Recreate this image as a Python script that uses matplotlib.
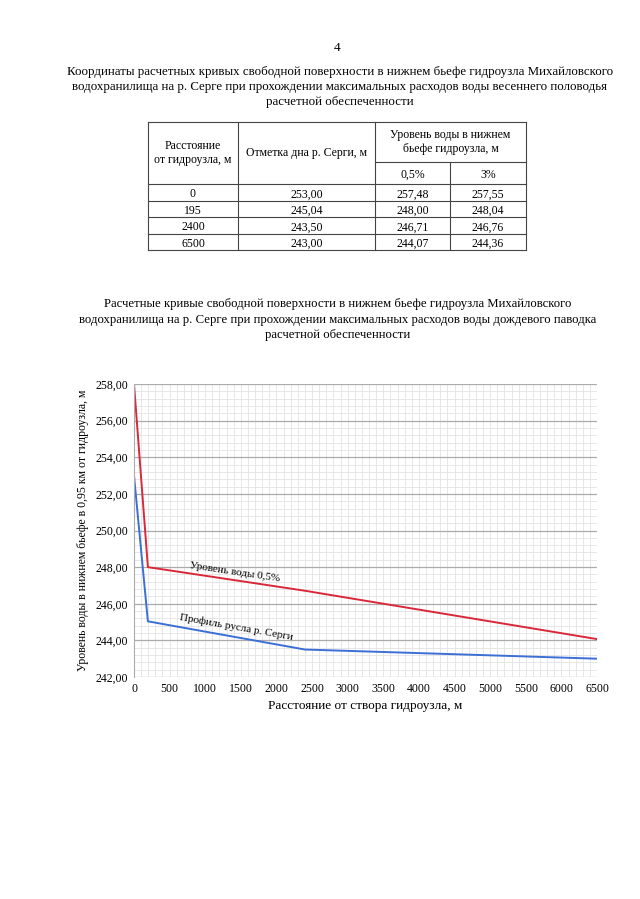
import numpy as np
import matplotlib.pyplot as plt
from matplotlib.ticker import MultipleLocator, FuncFormatter

plt.rcParams['font.family'] = ['Liberation Serif', 'DejaVu Serif']

# table data (весеннее половодье)
dist = [0, 195, 2400, 6500]
bottom = [253.00, 245.04, 243.50, 243.00]
lvl_05 = [257.48, 248.00, 246.71, 244.07]
lvl_3 = [257.55, 248.04, 246.76, 244.36]

# chart data (дождевой паводок)
x_chart = [0, 195, 2400, 6500]
y_water = [258.00, 248.00, 246.71, 244.07]
y_bed = [253.00, 245.04, 243.50, 243.00]

title1 = ["Координаты расчетных кривых свободной поверхности в нижнем бьефе гидроузла Михайловского",
          "водохранилища на р. Серге при прохождении максимальных расходов воды весеннего половодья",
          "расчетной обеспеченности"]
title2 = ["Расчетные кривые свободной поверхности в нижнем бьефе гидроузла Михайловского",
          "водохранилища на р. Серге при прохождении максимальных расходов воды дождевого паводка",
          "расчетной обеспеченности"]

def fmt(v):
    return f"{v:.2f}".replace('.', ',')

fig = plt.figure(figsize=(6.4, 8.99), dpi=100)

# page overlay in pixel units
pg = fig.add_axes([0, 0, 1, 1])
pg.set_xlim(0, 640)
pg.set_ylim(899, 0)
pg.axis('off')

pg.text(337, 51, "4", ha='center', va='baseline', fontsize=9.5)
for i, line in enumerate(title1):
    pg.text(340, 75 + 15 * i, line, ha='center', va='baseline', fontsize=9.3)

# table
cx = [148, 238, 375, 450, 526]
ry = [122, 162, 184, 200.5, 217, 233.5, 250]
lc = '#444444'
for yy in [ry[0], ry[2], ry[3], ry[4], ry[5], ry[6]]:
    pg.plot([cx[0], cx[-1]], [yy, yy], color=lc, lw=0.8)
pg.plot([cx[2], cx[4]], [ry[1], ry[1]], color=lc, lw=0.8)
for i, xx in enumerate(cx):
    top = ry[1] if i == 3 else ry[0]
    pg.plot([xx, xx], [top, ry[-1]], color=lc, lw=0.8)

tfs = 8.5
pg.text((cx[0] + cx[1]) / 2, 153, "Расстояние\nот гидроузла, м", ha='center', va='center', fontsize=tfs,
        linespacing=1.2)
pg.text((cx[1] + cx[2]) / 2, 153, "Отметка дна р. Серги, м", ha='center', va='center', fontsize=tfs)
pg.text((cx[2] + cx[4]) / 2, 142, "Уровень воды в нижнем\nбьефе гидроузла, м", ha='center', va='center',
        fontsize=tfs, linespacing=1.2)
pg.text((cx[2] + cx[3]) / 2, 173.5, "0,5%", ha='center', va='center_baseline', fontsize=tfs)
pg.text((cx[3] + cx[4]) / 2, 173.5, "3%", ha='center', va='center_baseline', fontsize=tfs)
for k in range(len(dist)):
    yc = (ry[k + 2] + ry[k + 3]) / 2 + 0.5
    pg.text((cx[0] + cx[1]) / 2, yc, str(dist[k]), ha='center', va='center_baseline', fontsize=tfs)
    pg.text((cx[1] + cx[2]) / 2, yc, fmt(bottom[k]), ha='center', va='center_baseline', fontsize=tfs)
    pg.text((cx[2] + cx[3]) / 2, yc, fmt(lvl_05[k]), ha='center', va='center_baseline', fontsize=tfs)
    pg.text((cx[3] + cx[4]) / 2, yc, fmt(lvl_3[k]), ha='center', va='center_baseline', fontsize=tfs)

for i, line in enumerate(title2):
    pg.text(338, 307 + 15.5 * i, line, ha='center', va='baseline', fontsize=9.2)

# chart
ax = fig.add_axes([134 / 640, 1 - 677 / 899, (597 - 134) / 640, (677 - 384) / 899])
ax.plot(x_chart, y_water, color='#d9283a', lw=1.4)
ax.plot(x_chart, y_bed, color='#3b6fd6', lw=1.4)
ax.set_xlim(0, 6500)
ax.set_ylim(242, 258)
ax.xaxis.set_major_locator(MultipleLocator(500))
ax.xaxis.set_minor_locator(MultipleLocator(100))
ax.yaxis.set_major_locator(MultipleLocator(2))
ax.yaxis.set_minor_locator(MultipleLocator(0.4))
ax.yaxis.set_major_formatter(FuncFormatter(lambda v, p: fmt(v)))
ax.grid(True, which='minor', color='#e3e3e3', lw=0.6)
ax.grid(True, which='major', axis='y', color='#ababab', lw=0.9)
ax.grid(True, which='major', axis='x', color='#e3e3e3', lw=0.6)
ax.set_axisbelow(True)
for s in ax.spines.values():
    s.set_visible(False)
ax.spines['left'].set_visible(True)
ax.spines['left'].set_color('#ababab')
ax.tick_params(which='both', length=0, labelsize=8.5, pad=4)

ax.text(1420, 247.7, "Уровень воды 0,5%", rotation=-8.5, ha='center', va='center', fontsize=8,
        rotation_mode='anchor')
ax.text(1430, 244.7, "Профиль русла р. Серги", rotation=-10, ha='center', va='center', fontsize=8,
        rotation_mode='anchor')

ax.set_xlabel("Расстояние от створа гидроузла, м", fontsize=9.5, labelpad=4)
ax.set_ylabel("Уровень воды в нижнем бьефе в 0,95 км от гидроузла, м", fontsize=8.5, labelpad=5)

fig.savefig('out.png', dpi=100)
